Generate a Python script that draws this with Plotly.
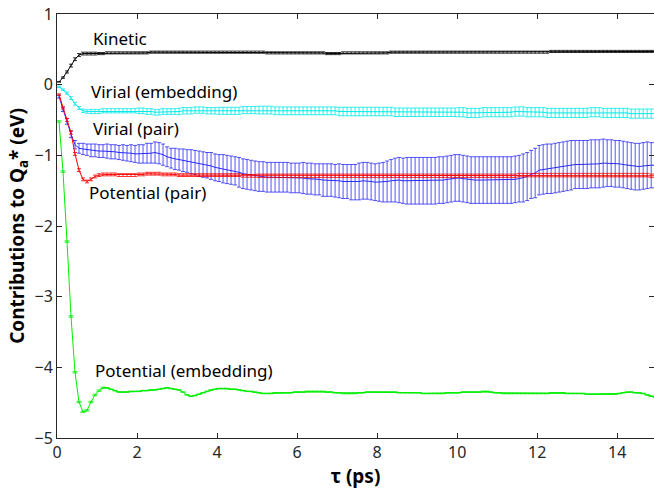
import plotly.graph_objects as go

# time grid (ps): 0.05, 0.15, ..., 14.95
tau = [round(0.05 + 0.1 * k, 2) for k in range(150)]

kinetic = [
    0.04, 0.10, 0.18, 0.27, 0.36, 0.42, 0.44, 0.44, 0.44, 0.44,
    0.44, 0.44, 0.45, 0.45, 0.45, 0.45, 0.45, 0.45, 0.45, 0.45,
    0.45, 0.45, 0.45, 0.46, 0.46, 0.46, 0.46, 0.46, 0.46, 0.46,
    0.46, 0.46, 0.46, 0.46, 0.46, 0.46, 0.46, 0.46, 0.46, 0.46,
    0.46, 0.46, 0.46, 0.46, 0.46, 0.46, 0.46, 0.46, 0.46, 0.46,
    0.46, 0.46, 0.45, 0.45, 0.45, 0.45, 0.45, 0.45, 0.45, 0.45,
    0.45, 0.45, 0.45, 0.45, 0.45, 0.45, 0.45, 0.44, 0.44, 0.44,
    0.44, 0.45, 0.45, 0.45, 0.45, 0.45, 0.45, 0.45, 0.45, 0.45,
    0.45, 0.45, 0.45, 0.46, 0.46, 0.46, 0.46, 0.46, 0.46, 0.46,
    0.46, 0.46, 0.46, 0.46, 0.46, 0.46, 0.46, 0.46, 0.46, 0.46,
    0.46, 0.46, 0.46, 0.46, 0.46, 0.46, 0.46, 0.46, 0.46, 0.46,
    0.46, 0.46, 0.46, 0.46, 0.46, 0.46, 0.46, 0.46, 0.46, 0.46,
    0.46, 0.46, 0.46, 0.47, 0.47, 0.47, 0.47, 0.47, 0.47, 0.47,
    0.47, 0.47, 0.47, 0.47, 0.47, 0.47, 0.47, 0.47, 0.47, 0.47,
    0.47, 0.47, 0.47, 0.47, 0.47, 0.47, 0.47, 0.47, 0.47, 0.47,
]
kinetic_err = [0.005, 0.01, 0.015, 0.02, 0.02, 0.02, 0.02, 0.02, 0.02, 0.02] + [0.015] * 140

virial_emb = [
    -0.03, -0.07, -0.12, -0.19, -0.27, -0.33, -0.37, -0.38, -0.38, -0.38,
    -0.38, -0.37, -0.37, -0.37, -0.37, -0.37, -0.37, -0.37, -0.37, -0.37,
    -0.37, -0.37, -0.38, -0.38, -0.39, -0.39, -0.38, -0.38, -0.38, -0.38,
    -0.38, -0.37, -0.37, -0.37, -0.36, -0.36, -0.36, -0.37, -0.37, -0.37,
    -0.37, -0.37, -0.37, -0.37, -0.37, -0.37, -0.36, -0.36, -0.36, -0.36,
    -0.36, -0.36, -0.36, -0.36, -0.37, -0.37, -0.37, -0.37, -0.37, -0.37,
    -0.37, -0.37, -0.37, -0.37, -0.37, -0.37, -0.37, -0.37, -0.37, -0.37,
    -0.38, -0.38, -0.38, -0.38, -0.38, -0.38, -0.38, -0.38, -0.38, -0.38,
    -0.38, -0.38, -0.38, -0.38, -0.39, -0.39, -0.39, -0.39, -0.39, -0.39,
    -0.39, -0.39, -0.39, -0.39, -0.39, -0.39, -0.39, -0.39, -0.39, -0.39,
    -0.39, -0.39, -0.40, -0.40, -0.40, -0.40, -0.39, -0.39, -0.39, -0.39,
    -0.39, -0.39, -0.39, -0.39, -0.38, -0.38, -0.38, -0.39, -0.39, -0.39,
    -0.39, -0.39, -0.40, -0.40, -0.40, -0.40, -0.40, -0.40, -0.40, -0.40,
    -0.40, -0.40, -0.40, -0.39, -0.39, -0.39, -0.40, -0.40, -0.40, -0.40,
    -0.40, -0.40, -0.40, -0.41, -0.41, -0.41, -0.41, -0.41, -0.41, -0.41,
]
virial_emb_err = (
    [0.01, 0.01, 0.015, 0.02, 0.02, 0.02, 0.025, 0.025, 0.03, 0.03]
    + [0.03] * 10 + [0.04] * 10 + [0.045] * 10 + [0.05] * 10
    + [0.055] * 20 + [0.06] * 30 + [0.065] * 50
)

virial_pair = [
    -0.17, -0.35, -0.52, -0.70, -0.85, -0.90, -0.91, -0.92, -0.93, -0.93,
    -0.94, -0.94, -0.94, -0.95, -0.95, -0.96, -0.96, -0.97, -0.97, -0.98,
    -0.98, -0.98, -0.97, -0.97, -0.96, -0.97, -0.99, -1.02, -1.04, -1.05,
    -1.06, -1.07, -1.08, -1.09, -1.10, -1.12, -1.13, -1.14, -1.15, -1.17,
    -1.18, -1.19, -1.20, -1.21, -1.22, -1.24, -1.26, -1.27, -1.28, -1.29,
    -1.30, -1.30, -1.31, -1.31, -1.31, -1.31, -1.31, -1.31, -1.32, -1.32,
    -1.32, -1.32, -1.33, -1.33, -1.34, -1.34, -1.35, -1.35, -1.35, -1.36,
    -1.36, -1.37, -1.37, -1.38, -1.38, -1.37, -1.36, -1.36, -1.37, -1.38,
    -1.38, -1.38, -1.37, -1.36, -1.35, -1.35, -1.36, -1.36, -1.36, -1.36,
    -1.36, -1.36, -1.36, -1.36, -1.36, -1.35, -1.35, -1.34, -1.33, -1.32,
    -1.32, -1.33, -1.34, -1.35, -1.35, -1.35, -1.35, -1.35, -1.35, -1.35,
    -1.35, -1.35, -1.35, -1.35, -1.34, -1.33, -1.32, -1.30, -1.27, -1.25,
    -1.21, -1.20, -1.19, -1.19, -1.18, -1.17, -1.16, -1.15, -1.14, -1.13,
    -1.13, -1.13, -1.13, -1.12, -1.12, -1.12, -1.11, -1.11, -1.11, -1.12,
    -1.12, -1.13, -1.14, -1.15, -1.16, -1.16, -1.15, -1.14, -1.14, -1.14,
]
virial_pair_err = [
    0.02, 0.03, 0.04, 0.05, 0.06, 0.07, 0.08, 0.08, 0.09, 0.09,
    0.09, 0.09, 0.10, 0.10, 0.10, 0.10, 0.11, 0.11, 0.12, 0.12,
    0.13, 0.13, 0.14, 0.14, 0.15, 0.15, 0.15, 0.14, 0.14, 0.15,
    0.15, 0.16, 0.16, 0.17, 0.17, 0.18, 0.18, 0.18, 0.19, 0.19,
    0.19, 0.20, 0.20, 0.20, 0.20, 0.21, 0.21, 0.21, 0.21, 0.21,
    0.21, 0.21, 0.21, 0.21, 0.21, 0.21, 0.21, 0.21, 0.21, 0.21,
    0.21, 0.22, 0.22, 0.22, 0.22, 0.22, 0.23, 0.23, 0.23, 0.23,
    0.24, 0.24, 0.24, 0.25, 0.25, 0.26, 0.26, 0.26, 0.26, 0.26,
    0.27, 0.28, 0.29, 0.30, 0.31, 0.32, 0.32, 0.33, 0.33, 0.33,
    0.33, 0.33, 0.33, 0.33, 0.33, 0.33, 0.33, 0.33, 0.33, 0.33,
    0.33, 0.33, 0.33, 0.33, 0.33, 0.33, 0.33, 0.33, 0.33, 0.33,
    0.33, 0.33, 0.33, 0.33, 0.33, 0.33, 0.34, 0.34, 0.34, 0.35,
    0.35, 0.35, 0.35, 0.35, 0.35, 0.35, 0.35, 0.35, 0.35, 0.34,
    0.34, 0.34, 0.34, 0.34, 0.34, 0.34, 0.34, 0.33, 0.33, 0.33,
    0.33, 0.33, 0.33, 0.33, 0.33, 0.33, 0.33, 0.33, 0.32, 0.32,
]

potential_pair = [
    -0.14, -0.33, -0.50, -0.68, -0.98, -1.21, -1.34, -1.37, -1.34, -1.30,
    -1.28, -1.27, -1.27, -1.27, -1.27, -1.28, -1.28, -1.28, -1.28, -1.28,
    -1.27, -1.27, -1.26, -1.26, -1.26, -1.26, -1.27, -1.27, -1.27, -1.27,
    -1.28, -1.28, -1.28, -1.28, -1.28, -1.28, -1.28, -1.28, -1.28, -1.28,
    -1.28, -1.28, -1.28, -1.28, -1.28, -1.28, -1.29, -1.29, -1.29, -1.29,
    -1.29, -1.29, -1.29, -1.29, -1.29, -1.29, -1.29, -1.29, -1.29, -1.29,
    -1.29, -1.29, -1.29, -1.29, -1.29, -1.29, -1.29, -1.29, -1.29, -1.29,
    -1.29, -1.29, -1.29, -1.29, -1.29, -1.29, -1.29, -1.29, -1.29, -1.29,
    -1.29, -1.29, -1.29, -1.29, -1.29, -1.29, -1.29, -1.29, -1.29, -1.29,
    -1.29, -1.29, -1.29, -1.29, -1.29, -1.29, -1.29, -1.29, -1.29, -1.29,
    -1.29, -1.29, -1.29, -1.29, -1.29, -1.29, -1.29, -1.29, -1.29, -1.29,
    -1.29, -1.29, -1.29, -1.29, -1.29, -1.28, -1.28, -1.28, -1.28, -1.28,
    -1.28, -1.28, -1.28, -1.28, -1.28, -1.28, -1.28, -1.28, -1.28, -1.28,
    -1.28, -1.28, -1.28, -1.28, -1.28, -1.28, -1.28, -1.28, -1.28, -1.28,
    -1.28, -1.28, -1.28, -1.28, -1.28, -1.28, -1.28, -1.28, -1.29, -1.29,
]
potential_pair_err = [0.01, 0.015, 0.02, 0.02, 0.02, 0.02, 0.02, 0.02, 0.02, 0.02] + [0.02] * 40 + [0.025] * 100

potential_emb = [
    -0.52, -1.23, -2.22, -3.28, -4.07, -4.49, -4.63, -4.61, -4.49, -4.39,
    -4.33, -4.29, -4.29, -4.31, -4.33, -4.35, -4.35, -4.35, -4.34, -4.34,
    -4.34, -4.33, -4.33, -4.32, -4.32, -4.31, -4.30, -4.29, -4.30, -4.31,
    -4.32, -4.35, -4.39, -4.41, -4.40, -4.38, -4.36, -4.34, -4.32, -4.31,
    -4.30, -4.30, -4.30, -4.31, -4.31, -4.32, -4.33, -4.34, -4.34, -4.35,
    -4.36, -4.37, -4.37, -4.37, -4.36, -4.36, -4.36, -4.36, -4.36, -4.35,
    -4.35, -4.35, -4.34, -4.34, -4.34, -4.34, -4.34, -4.35, -4.35, -4.36,
    -4.36, -4.37, -4.37, -4.37, -4.37, -4.36, -4.36, -4.35, -4.35, -4.35,
    -4.35, -4.35, -4.35, -4.35, -4.35, -4.36, -4.36, -4.36, -4.36, -4.36,
    -4.36, -4.37, -4.37, -4.37, -4.37, -4.37, -4.37, -4.36, -4.36, -4.36,
    -4.36, -4.35, -4.35, -4.35, -4.35, -4.35, -4.34, -4.34, -4.35, -4.36,
    -4.36, -4.37, -4.37, -4.37, -4.37, -4.37, -4.37, -4.37, -4.37, -4.37,
    -4.37, -4.37, -4.37, -4.36, -4.36, -4.36, -4.36, -4.37, -4.37, -4.37,
    -4.37, -4.37, -4.38, -4.38, -4.38, -4.38, -4.38, -4.38, -4.38, -4.38,
    -4.37, -4.36, -4.35, -4.35, -4.36, -4.36, -4.37, -4.39, -4.41, -4.42,
]
potential_emb_err = [0.01] * 12 + [0.004] * 138

labels = ["Kinetic", "Virial (embedding)", "Virial (pair)", "Potential (pair)", "Potential (embedding)"]
label_x = [0.84, 0.81, 0.86, 0.74, 0.89]
label_y = [0.66, -0.10, -0.62, -1.53, -4.05]

series = [
    (kinetic, kinetic_err, "#000000", 2),
    (virial_emb, virial_emb_err, "#00e8e8", 2),
    (virial_pair, virial_pair_err, "#2828ff", 2),
    (potential_pair, potential_pair_err, "#ff0000", 2),
    (potential_emb, potential_emb_err, "#00ee00", 2.5),
]

fig = go.Figure()
for (vals, err, col, capw), name in zip(series, labels):
    fig.add_trace(go.Scatter(
        x=tau, y=vals, mode="lines", name=name,
        line=dict(color=col, width=1),
        error_y=dict(type="data", array=err, visible=True, color=col, thickness=0.8, width=capw),
        showlegend=False,
    ))

for txt, lx, ly in zip(labels, label_x, label_y):
    fig.add_annotation(x=lx, y=ly, text=txt, showarrow=False, xanchor="left", yanchor="middle",
                       font=dict(family="Noto Sans", size=17, color="#000000"))

axis_common = dict(
    showline=True, linecolor="#262626", linewidth=1, mirror="ticks",
    ticks="inside", ticklen=5, tickcolor="#262626", showgrid=False, zeroline=False,
    tickfont=dict(family="Noto Sans", size=16, color="#262626"),
)
fig.update_xaxes(range=[0, 14.92], tickvals=[0, 2, 4, 6, 8, 10, 12, 14],
                 title=dict(text="<b>τ (ps)</b>", font=dict(family="Noto Sans", size=19, color="#000000"), standoff=6),
                 **axis_common)
fig.update_yaxes(range=[-5, 1], tickvals=[-5, -4, -3, -2, -1, 0, 1],
                 ticktext=["−5", "−4", "−3", "−2", "−1", "0", "1"],
                 title=dict(text="<b>Contributions to Q<sub>a</sub>* (eV)</b>", font=dict(family="Noto Sans", size=19, color="#000000"), standoff=4),
                 **axis_common)
fig.update_layout(
    width=654, height=494,
    margin=dict(l=57, r=0, t=14, b=56),
    plot_bgcolor="white", paper_bgcolor="white",
)
fig.write_html("out.html")
